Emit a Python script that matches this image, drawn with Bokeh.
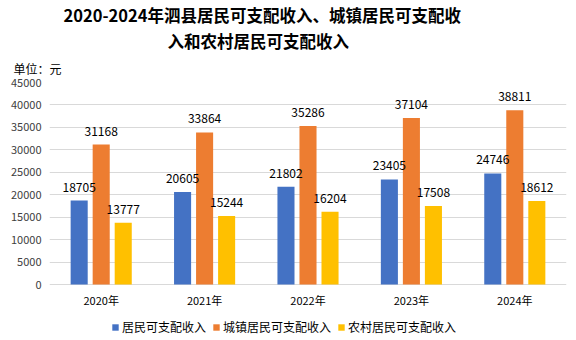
from bokeh.plotting import figure
from bokeh.models import (ColumnDataSource, FactorRange, Range1d, LabelSet, Legend, LegendItem,
                          Title, FixedTicker)
from bokeh.core.properties import value
from bokeh.transform import dodge
from bokeh.embed import file_html
from bokeh.resources import INLINE

years = ["2020年", "2021年", "2022年", "2023年", "2024年"]
resident = [18705, 20605, 21802, 23405, 24746]
urban = [31168, 33864, 35286, 37104, 38811]
rural = [13777, 15244, 16204, 17508, 18612]
series_names = ["居民可支配收入", "城镇居民可支配收入", "农村居民可支配收入"]
y_ticks = [0, 5000, 10000, 15000, 20000, 25000, 30000, 35000, 40000, 45000]
title_line1 = "2020-2024年泗县居民可支配收入、城镇居民可支配收"
title_line2 = "入和农村居民可支配收入"
unit_text = "单位：元"
colors = ["#4472C4", "#ED7D31", "#FFC000"]

src = ColumnDataSource(dict(years=years, resident=resident, urban=urban, rural=rural,
                            base=[0] * len(years)))

FONT = "Noto Sans CJK SC"
Y_MAX = 45000
# frame extends below zero to host the category labels and the legend
y_start = -Y_MAX * 64 / 202

p = figure(frame_width=517, frame_height=266, x_range=FactorRange(*years),
           y_range=Range1d(y_start, Y_MAX), x_axis_location=None, title=None,
           output_backend="svg", toolbar_location=None,
           min_border_left=49, min_border_right=10, min_border_top=74, min_border_bottom=0)

# titles stacked upward from the frame: unit, then title line 2, then title line 1
p.add_layout(Title(text=unit_text, align="left", text_font=FONT, text_font_size="12px",
                   text_font_style="normal", text_color="#000000", standoff=11, offset=-36), "above")
p.add_layout(Title(text=title_line2, align="left", text_font=FONT, text_font_size="16.5px",
                   text_font_style="bold", text_color="#000000", standoff=0, offset=118), "above")
p.add_layout(Title(text=title_line1, align="left", text_font=FONT, text_font_size="16.5px",
                   text_font_style="bold", text_color="#000000", standoff=0, offset=14), "above")

width = 0.165
offsets = [-0.213, 0.0, 0.213]
fields = ["resident", "urban", "rural"]
renderers = []
for f, off, c in zip(fields, offsets, colors):
    r = p.vbar(x=dodge("years", off, range=p.x_range), top=f, width=width, source=src,
               fill_color=c, line_color=None)
    renderers.append(r)
    p.add_layout(LabelSet(x=dodge("years", off, range=p.x_range), y=f, text=f, source=src,
                          y_offset=9, text_align="center", text_baseline="bottom",
                          text_font_size=value("12px"), text_font=value(FONT), text_color="#000000"))

# category labels under the zero line
p.add_layout(LabelSet(x="years", y="base", text="years", source=src, y_offset=-7,
                      text_align="center", text_baseline="top",
                      text_font_size=value("11px"), text_font=value(FONT), text_color="#000000"))

legend = Legend(items=[LegendItem(label=n, renderers=[r]) for n, r in zip(series_names, renderers)],
                orientation="horizontal", location=(62, 13), label_text_font=FONT,
                label_text_font_size="12px", label_text_color="#000000",
                glyph_width=8, glyph_height=8, spacing=6, label_standoff=3, label_height=14,
                border_line_color=None, background_fill_alpha=0, margin=0, padding=4)
p.add_layout(legend, "center")

p.x_range.range_padding = 0
p.xgrid.grid_line_color = None
p.ygrid.grid_line_color = "#D9D9D9"
p.ygrid.ticker = FixedTicker(ticks=y_ticks)
p.yaxis.ticker = FixedTicker(ticks=y_ticks)
p.yaxis.axis_line_color = None
p.yaxis.major_tick_line_color = None
p.yaxis.minor_tick_line_color = None
p.yaxis.major_tick_out = 0
p.yaxis.major_label_text_font_size = "11px"
p.yaxis.major_label_text_color = "#404040"
p.yaxis.major_label_text_font = FONT
p.yaxis.major_label_standoff = 8
p.outline_line_color = None

open("out.html", "w").write(file_html(p, INLINE))
